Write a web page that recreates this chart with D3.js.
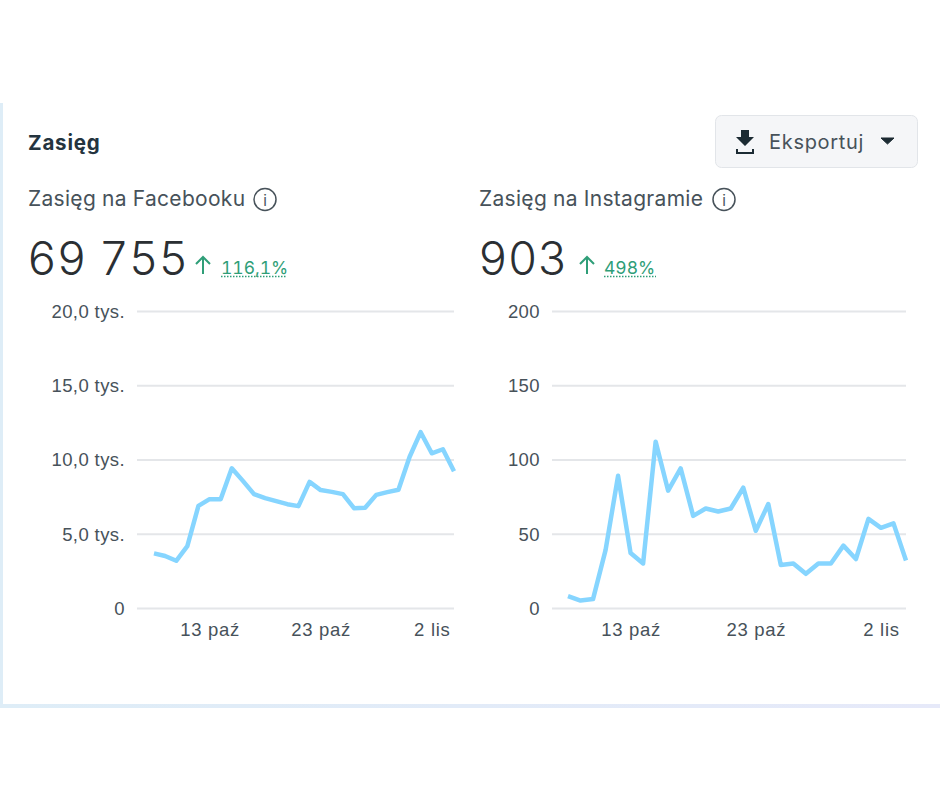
<!DOCTYPE html>
<html lang="pl">
<head>
<meta charset="utf-8">
<title>Zasięg</title>
<script src="https://cdn.jsdelivr.net/npm/d3@7"></script>
<style>
  html, body { margin: 0; padding: 0; background: #fff; }
  svg { display: block; font-family: "Inter", sans-serif; font-variant-numeric: tabular-nums; }
  .domain { display: none; }
</style>
</head>
<body>
<script>
// dni na osi X
const days = ["8 paź","9 paź","10 paź","11 paź","12 paź","13 paź","14 paź","15 paź","16 paź","17 paź",
  "18 paź","19 paź","20 paź","21 paź","22 paź","23 paź","24 paź","25 paź","26 paź","27 paź",
  "28 paź","29 paź","30 paź","31 paź","1 lis","2 lis","3 lis","4 lis"];
const xTickLabels = ["13 paź","23 paź","2 lis"];

const facebookValues = [3680,3500,3180,4170,6880,7330,7330,9410,8560,7670,7400,7200,6990,6860,
  8490,7940,7820,7670,6720,6750,7620,7800,7960,10170,11840,10420,10690,9210];
const instagramValues = [8,5,6,39,89,37,30,112,79,94,62,67,65,67,81,52,70,29,30,23,30,30,42,33,60,54,57,32];

const facebookTicks = [0,5000,10000,15000,20000];
const facebookTickLabels = ["0","5,0 tys.","10,0 tys.","15,0 tys.","20,0 tys."];
const instagramTicks = [0,50,100,150,200];
const instagramTickLabels = ["0","50","100","150","200"];

const svg = d3.select("body").append("svg").attr("width", 940).attr("height", 788);

// karta - jasne paski z lewej i na dole
const grad = svg.append("defs").append("linearGradient").attr("id", "edge");
grad.append("stop").attr("offset", "0").attr("stop-color", "#deedf7");
grad.append("stop").attr("offset", "1").attr("stop-color", "#e6e9f9");
svg.append("rect").attr("x", 0).attr("y", 103).attr("width", 3).attr("height", 605).attr("fill", "#deedf7");
svg.append("rect").attr("x", 0).attr("y", 704).attr("width", 940).attr("height", 4).attr("fill", "url(#edge)");

svg.append("text").attr("x", 28).attr("y", 150).attr("font-size", 20.5).attr("font-weight", 700)
  .attr("fill", "#24343f").style("letter-spacing", "0.8px").text("Zasięg");

// przycisk eksportu
const btn = svg.append("g");
btn.append("rect").attr("x", 715.5).attr("y", 115.5).attr("width", 202).attr("height", 52).attr("rx", 6)
  .attr("fill", "#f5f6f8").attr("stroke", "#e2e5e9");
btn.append("path").attr("fill", "#1c2b33")
  .attr("d", "M741 130h8v7h5l-9 9-9-9h5z M736 149h2v3h14v-3h2v5h-18z");
btn.append("text").attr("x", 769).attr("y", 148.5).attr("font-size", 20).attr("fill", "#47525a")
  .style("letter-spacing", "0.7px").text("Eksportuj");
btn.append("path").attr("fill", "#1c2b33").attr("stroke", "#1c2b33").attr("stroke-linejoin", "round")
  .attr("d", "M881 138h13l-6.5 6z");

function drawChart(opt) {
  const y = d3.scaleLinear().domain([0, opt.ticks[opt.ticks.length - 1]]).range([608, 311]);
  const x = d3.scalePoint().domain(days).range([opt.lineStart, opt.right]);

  svg.append("text").attr("x", opt.titleX).attr("y", 206).attr("font-size", 21).attr("fill", "#47525a")
    .style("letter-spacing", "0.3px").text(opt.title);

  // ikonka info
  const info = svg.append("g").attr("transform", `translate(${opt.infoX},199.5)`);
  info.append("circle").attr("r", 11).attr("fill", "none").attr("stroke", "#47525a").attr("stroke-width", 1.5);
  info.append("text").attr("text-anchor", "middle").attr("y", 6).attr("font-size", 15).attr("fill", "#47525a").text("i");

  svg.append("text").attr("x", opt.titleX - 1).attr("y", 275).attr("font-size", 46)
    .attr("fill", "#2b2f33").attr("font-weight", 300).text(opt.total);

  svg.append("path").attr("fill", "none").attr("stroke", "#2f9e78").attr("stroke-width", 2)
    .attr("d", `M${opt.arrowX} 274V257M${opt.arrowX - 7} 264L${opt.arrowX} 257L${opt.arrowX + 7} 264`);
  svg.append("text").attr("x", opt.changeX).attr("y", 274).attr("font-size", 17.5).attr("fill", "#2f9e78")
    .text(opt.change);
  svg.append("line").attr("x1", opt.changeX).attr("x2", opt.changeEnd).attr("y1", 276.5).attr("y2", 276.5)
    .attr("stroke", "#2f9e78").attr("stroke-width", 1.5).attr("stroke-dasharray", "1.5 1.5");

  // os Y z liniami siatki
  const yAxis = svg.append("g").attr("transform", `translate(${opt.left},0)`)
    .call(d3.axisLeft(y).tickValues(opt.ticks).tickSize(-(opt.right - opt.left)).tickPadding(12)
      .tickFormat((d, i) => opt.tickLabels[i]));
  yAxis.selectAll("line").attr("stroke", "#e4e6e9").attr("stroke-width", 2);
  yAxis.selectAll("text").attr("font-size", 18.5).attr("fill", "#47525a").attr("font-family", "inherit")
    .attr("dy", "0.35em").style("letter-spacing", "0.4px");

  // os X
  const xAxis = svg.append("g").attr("transform", "translate(0,608)")
    .call(d3.axisBottom(x).tickValues(xTickLabels).tickSize(0).tickPadding(15));
  xAxis.selectAll("text").attr("font-size", 18.5).attr("fill", "#47525a").attr("font-family", "inherit")
    .style("letter-spacing", "0.7px");

  const line = d3.line().x((d, i) => x(days[i])).y(d => y(d));
  svg.append("path").datum(opt.values).attr("fill", "none").attr("stroke", "#86d5ff")
    .attr("stroke-width", 4.5).attr("stroke-linejoin", "round").attr("d", line);
}

drawChart({ title: "Zasięg na Facebooku", total: "69 755", change: "116,1%", values: facebookValues,
  ticks: facebookTicks, tickLabels: facebookTickLabels, left: 137, right: 454, lineStart: 154,
  titleX: 28, infoX: 265, arrowX: 203, changeX: 221, changeEnd: 286 });
drawChart({ title: "Zasięg na Instagramie", total: "903", change: "498%", values: instagramValues,
  ticks: instagramTicks, tickLabels: instagramTickLabels, left: 552, right: 906, lineStart: 568,
  titleX: 479, infoX: 724, arrowX: 587, changeX: 604, changeEnd: 656 });
</script>
</body>
</html>
